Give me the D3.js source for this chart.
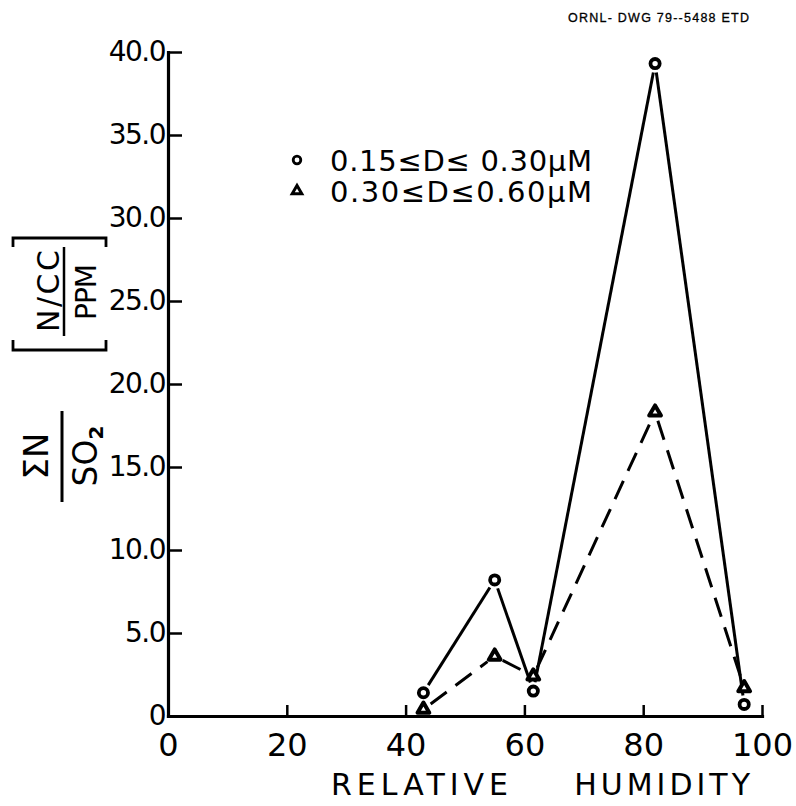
<!DOCTYPE html>
<html>
<head>
<meta charset="utf-8">
<script src="https://cdn.jsdelivr.net/npm/d3@7"></script>
<style>
  html, body { margin: 0; padding: 0; background: #fff; }
  svg { display: block; }
  text { font-family: 'DejaVu Sans', sans-serif; fill: #000; }
</style>
</head>
<body>
<svg id="chart" width="796" height="806"></svg>
<script>
// relative humidity (%) of each measurement
const humidity = [43, 55, 61.5, 82, 97];
// sum N / SO2 for 0.15 <= D <= 0.30 um (circles, solid line)
const smallSizes = [1.4, 8.2, 1.5, 39.3, 0.7];
// sum N / SO2 for 0.30 <= D <= 0.60 um (triangles, dashed line)
const largeSizes = [0.4, 3.6, 2.4, 18.3, 1.7];

const xTicks = [0, 20, 40, 60, 80, 100];
const yTicks = [0, 5, 10, 15, 20, 25, 30, 35, 40];
const legendLabels = ['0.15\u2264D\u2264 0.30\u03bcM', '0.30\u2264D\u22640.60\u03bcM'];

const svg = d3.select('#chart');

const x = d3.scaleLinear().domain([0, 100]).range([168, 762]);
const y = d3.scaleLinear().domain([0, 40]).range([716, 52]);

// drawing number in the corner
svg.append('text')
  .attr('x', 568).attr('y', 22)
  .attr('textLength', 181)
  .style('font-family', 'Liberation Sans, Arial, sans-serif')
  .style('font-size', '12.5px')
  .style('stroke', '#000').style('stroke-width', 0.3)
  .text('ORNL- DWG 79--5488  ETD');

// y axis, ticks pointing inward
const yAxis = d3.axisLeft(y)
  .tickValues(yTicks)
  .tickSizeInner(-14)
  .tickSizeOuter(0)
  .tickPadding(3)
  .tickFormat((d) => d === 0 ? '0' : d.toFixed(1));

const gy = svg.append('g').attr('transform', `translate(${x(0)},0)`).call(yAxis);
gy.selectAll('.tick line').attr('stroke-width', 2.5).filter((d) => d === 0).remove();
gy.selectAll('.tick text')
  .style('font-size', '28px')
  .style('letter-spacing', '-1.5px')
  .attr('fill', '#000');

// x axis, ticks pointing up
const xAxis = d3.axisBottom(x)
  .tickValues(xTicks)
  .tickSizeInner(-11)
  .tickSizeOuter(0)
  .tickPadding(17)
  .tickFormat(d3.format('d'));

const gx = svg.append('g').attr('transform', `translate(0,${y(0)})`).call(xAxis);
gx.selectAll('.tick line').attr('stroke-width', 2.5).filter((d) => d === 0).remove();
gx.selectAll('.tick text')
  .style('font-size', '32px')
  .attr('fill', '#000');

svg.selectAll('.domain').attr('stroke-width', 3.2).attr('stroke-linecap', 'square');

svg.append('text')
  .attr('x', 331).attr('y', 795)
  .style('font-size', '30px')
  .style('letter-spacing', '5px')
  .text('RELATIVE');
svg.append('text')
  .attr('x', 754).attr('y', 795)
  .attr('text-anchor', 'end')
  .style('font-size', '30px')
  .style('letter-spacing', '4px')
  .text('HUMIDITY');

// y axis title, rotated: local x = -screenY, local y = screenX
const yt = svg.append('g').attr('transform', 'rotate(-90)');
yt.append('text')
  .attr('x', -456).attr('y', 48)
  .attr('text-anchor', 'middle')
  .style('font-size', '34px')
  .text('\u03a3N');
yt.append('line')
  .attr('x1', -502).attr('x2', -411)
  .attr('y1', 62).attr('y2', 62)
  .attr('stroke', '#000').attr('stroke-width', 3);
const so = yt.append('text')
  .attr('x', -456).attr('y', 97)
  .attr('text-anchor', 'middle')
  .style('font-size', '33px');
so.append('tspan').text('SO');
so.append('tspan').attr('dy', 6).style('font-size', '20px').style('font-weight', 'bold').text('2');

yt.append('text')
  .attr('x', -291).attr('y', 59)
  .attr('text-anchor', 'middle')
  .attr('textLength', 82)
  .style('font-size', '30px')
  .text('N/CC');
yt.append('line')
  .attr('x1', -336).attr('x2', -247)
  .attr('y1', 64).attr('y2', 64)
  .attr('stroke', '#000').attr('stroke-width', 2.5);
yt.append('text')
  .attr('x', -292).attr('y', 96)
  .attr('text-anchor', 'middle')
  .attr('textLength', 56)
  .style('font-size', '28px')
  .text('PPM');
// brackets
yt.append('path')
  .attr('d', 'M-340,13 L-350,13 L-350,106 L-340,106 M-247,13 L-238,13 L-238,106 L-247,106')
  .attr('fill', 'none').attr('stroke', '#000').attr('stroke-width', 2.8);

// lines, with small gaps left around the markers
const gap = 9;
function segments(values) {
  const pts = humidity.map((h, i) => [x(h), y(values[i])]);
  return d3.pairs(pts).map(([a, b]) => {
    const dx = b[0] - a[0], dy = b[1] - a[1];
    const len = Math.hypot(dx, dy);
    const ux = dx / len, uy = dy / len;
    return [[a[0] + ux * gap, a[1] + uy * gap], [b[0] - ux * gap, b[1] - uy * gap]];
  });
}
const line = d3.line();

svg.append('g').selectAll('path')
  .data(segments(smallSizes))
  .join('path')
  .attr('d', (d) => line(d))
  .attr('fill', 'none').attr('stroke', '#000').attr('stroke-width', 3);

svg.append('g').selectAll('path')
  .data(segments(largeSizes))
  .join('path')
  .attr('d', (d) => line(d))
  .attr('fill', 'none').attr('stroke', '#000').attr('stroke-width', 3)
  .attr('stroke-dasharray', '20,11');

// markers
const tri = d3.symbol().type(d3.symbolTriangle).size(60);

svg.append('g').selectAll('circle')
  .data(humidity)
  .join('circle')
  .attr('cx', (d) => x(d))
  .attr('cy', (d, i) => y(smallSizes[i]))
  .attr('r', 4.6)
  .attr('fill', '#fff').attr('stroke', '#000').attr('stroke-width', 3.8);

svg.append('g').selectAll('path')
  .data(humidity)
  .join('path')
  .attr('d', tri)
  .attr('transform', (d, i) => `translate(${x(d)},${y(largeSizes[i])})`)
  .attr('fill', '#fff').attr('stroke', '#000').attr('stroke-width', 4)
  .attr('stroke-linejoin', 'round');

// legend
const legend = svg.append('g');
legend.append('circle')
  .attr('cx', 297).attr('cy', 160).attr('r', 3.8)
  .attr('fill', '#fff').attr('stroke', '#000').attr('stroke-width', 2.8);
legend.append('path')
  .attr('d', d3.symbol().type(d3.symbolTriangle).size(40))
  .attr('transform', 'translate(297,191)')
  .attr('fill', '#fff').attr('stroke', '#000').attr('stroke-width', 3);
legend.selectAll('text')
  .data(legendLabels)
  .join('text')
  .attr('x', 330)
  .attr('y', (d, i) => 171 + i * 31)
  .attr('textLength', 262)
  .style('font-size', '29px')
  .text((d) => d);
</script>
</body>
</html>
